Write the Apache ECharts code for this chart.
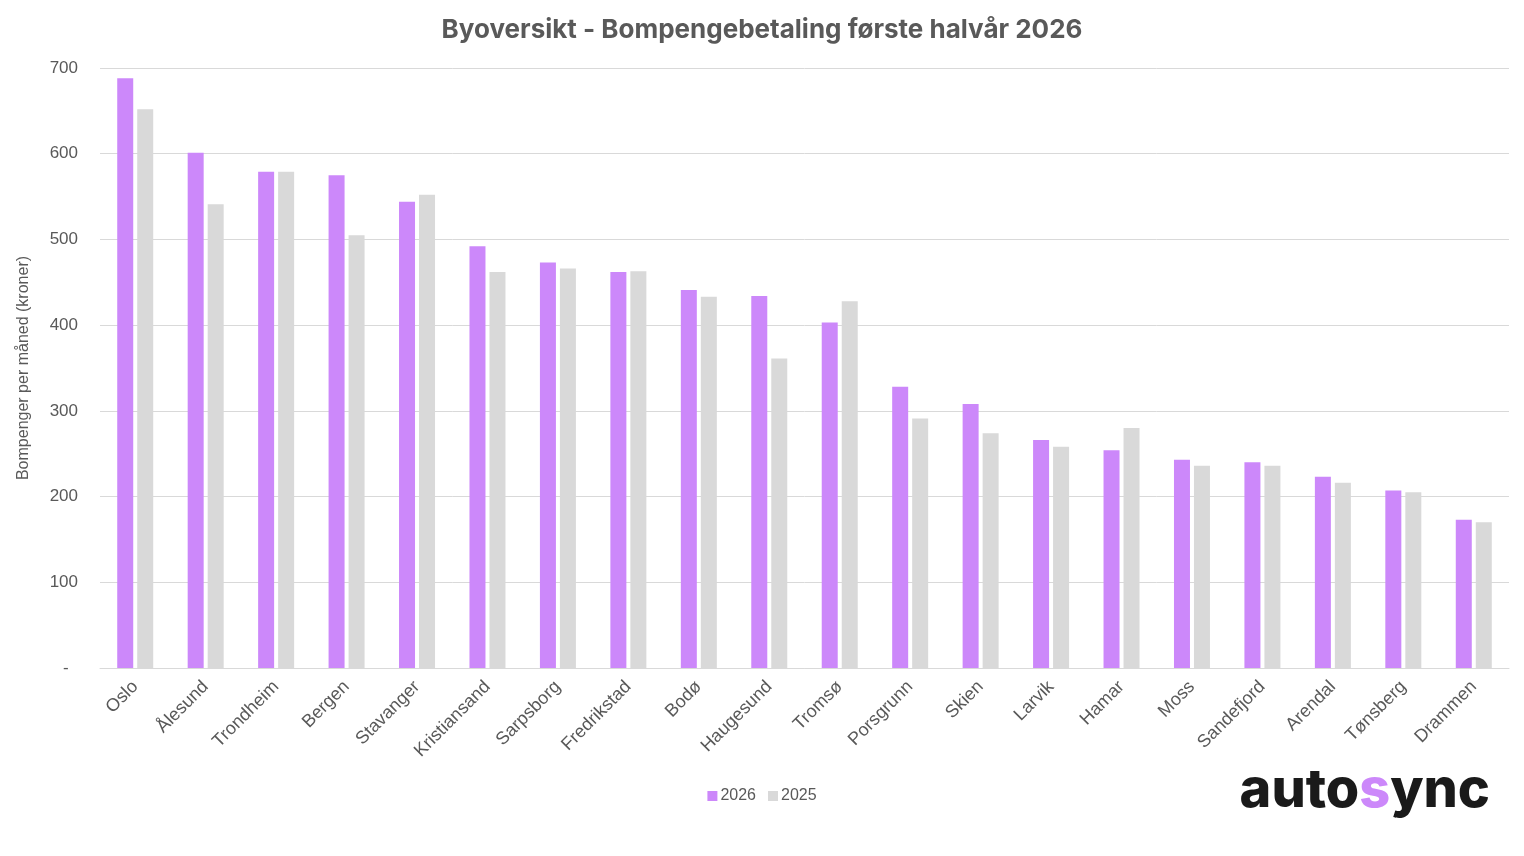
<!DOCTYPE html>
<html>
<head>
<meta charset="utf-8">
<script src="https://cdn.jsdelivr.net/npm/echarts@6/dist/echarts.min.js"></script>
<style>
  html, body { margin: 0; padding: 0; background: #fff; }
  #main { width: 1524px; height: 856px; }
</style>
</head>
<body>
<div id="main"></div>
<script>
// cities, sorted as in the source chart
var cities = ['Oslo', 'Ålesund', 'Trondheim', 'Bergen', 'Stavanger', 'Kristiansand', 'Sarpsborg',
    'Fredrikstad', 'Bodø', 'Haugesund', 'Tromsø', 'Porsgrunn', 'Skien', 'Larvik', 'Hamar', 'Moss',
    'Sandefjord', 'Arendal', 'Tønsberg', 'Drammen'];

// toll per month (kroner), first half year
var values2026 = [688, 601, 579, 575, 544, 492, 473, 462, 441, 434, 403, 328, 308, 266, 254, 243, 240, 223, 207, 173];
var values2025 = [652, 541, 579, 505, 552, 462, 466, 463, 433, 361, 428, 291, 274, 258, 280, 236, 236, 216, 205, 170];

var yTicks = [0, 100, 200, 300, 400, 500, 600, 700];

var chartDom = document.getElementById('main');
var myChart = echarts.init(chartDom);
var textColor = '#595959';
var font = 'Liberation Sans, Arial, sans-serif';

var option = {
    animation: false,
    title: {
        text: 'Byoversikt - Bompengebetaling første halvår 2026',
        left: 'center',
        top: 12,
        textStyle: {
            fontFamily: 'Inter, sans-serif',
            fontSize: 26,
            fontWeight: 'bold',
            color: textColor
        }
    },
    legend: {
        data: ['2026', '2025'],
        bottom: 47,
        left: 'center',
        itemWidth: 10,
        itemHeight: 10,
        itemGap: 12,
        icon: 'rect',
        textStyle: { fontFamily: font, fontSize: 16, color: textColor, padding: [0, 0, 0, -2] }
    },
    grid: {
        left: 100,
        right: 15,
        top: 68,
        bottom: 188
    },
    xAxis: {
        type: 'category',
        data: cities,
        axisTick: { show: false },
        axisLine: { lineStyle: { color: '#d9d9d9' } },
        axisLabel: {
            rotate: 45,
            margin: 16,
            interval: 0,
            fontFamily: font,
            fontSize: 18,
            color: textColor
        }
    },
    yAxis: {
        type: 'value',
        min: yTicks[0],
        max: yTicks[yTicks.length - 1],
        interval: 100,
        name: 'Bompenger per måned (kroner)',
        nameLocation: 'middle',
        nameGap: 68,
        nameTextStyle: { fontFamily: font, fontSize: 16, color: textColor },
        splitLine: { lineStyle: { color: '#d9d9d9' } },
        axisLabel: {
            margin: 22,
            fontFamily: font,
            fontSize: 17,
            color: textColor,
            // Excel style zero shown as a dash, padded like the accounting format
            formatter: function (v) { return v === 0 ? '-  ' : String(v); }
        }
    },
    series: [
        {
            name: '2026',
            type: 'bar',
            data: values2026,
            barWidth: 16,
            barGap: '25%',
            itemStyle: { color: '#cc88fa' }
        },
        {
            name: '2025',
            type: 'bar',
            data: values2025,
            barWidth: 16,
            itemStyle: { color: '#d9d9d9' }
        }
    ],
    graphic: [
        {
            type: 'text',
            right: 34,
            top: 764,
            style: {
                text: '{a|auto}{s|s}{a|ync}',
                rich: {
                    a: { fontFamily: 'Inter, sans-serif', fontSize: 54, fontWeight: 800, fill: '#1a1a1a' },
                    s: { fontFamily: 'Inter, sans-serif', fontSize: 54, fontWeight: 800, fill: '#cc88fa' }
                }
            }
        }
    ]
};

myChart.setOption(option);
</script>
</body>
</html>
